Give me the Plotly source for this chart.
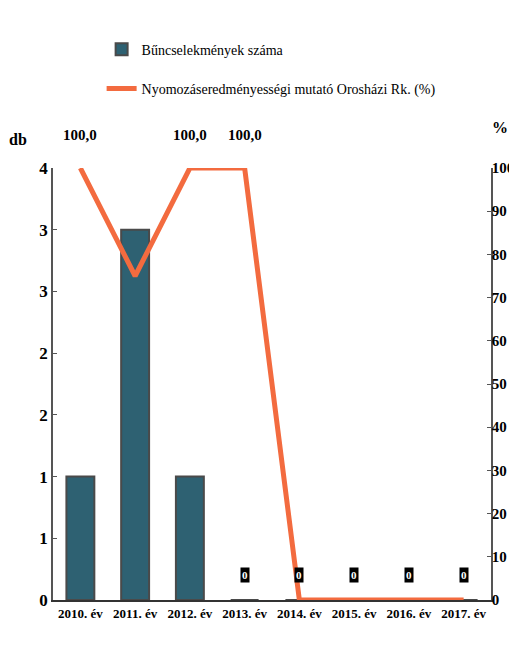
import plotly.graph_objects as go

categories = ["2010. év", "2011. év", "2012. év", "2013. év", "2014. év", "2015. év", "2016. év", "2017. év"]
crimes = [1, 3, 1, 0, 0, 0, 0, 0]
rate = [100, 75, 100, 100, 0, 0, 0, 0]
left_tickvals = [0, 0.5, 1, 1.5, 2, 2.5, 3, 3.5]
left_ticktext = ["0", "1", "1", "2", "2", "3", "3", "4"]
right_tickvals = [0, 10, 20, 30, 40, 50, 60, 70, 80, 90, 100]

FONT = "Liberation Serif"

fig = go.Figure()
fig.add_trace(go.Bar(
    x=categories, y=crimes, name="Bűncselekmények száma",
    marker=dict(color="#2E6172", line=dict(color="#4a4a4a", width=2)),
    legendgroup="a",
))
fig.add_trace(go.Scatter(
    x=categories, y=rate, name="Nyomozáseredményességi mutató Orosházi Rk. (%)",
    mode="lines", line=dict(color="#F36B3F", width=5), yaxis="y2",
    legendgroup="b",
))
for c, v in zip(categories, rate):
    if v == 100:
        fig.add_annotation(x=c, y=v, yref="y2", text="<b>" + ("%.1f" % v).replace(".", ",") + "</b>",
                           showarrow=False, yshift=33, font=dict(family=FONT, size=15, color="black"))
for c, v in zip(categories, crimes):
    if v == 0:
        fig.add_annotation(x=c, y=v, yref="y", text="<b>0</b>", showarrow=False, yshift=25,
                           bgcolor="black", borderpad=1,
                           font=dict(family=FONT, size=11, color="white"))

fig.add_annotation(x=-0.08, y=1.065, xref="paper", yref="paper", text="<b>db</b>", showarrow=False,
                   xanchor="center", yanchor="middle",
                   font=dict(family=FONT, size=16, color="black"))
fig.add_annotation(x=1.02, y=1.093, xref="paper", yref="paper", text="<b>%</b>", showarrow=False,
                   xanchor="center", yanchor="middle",
                   font=dict(family=FONT, size=16, color="black"))

fig.update_layout(
    width=509, height=638,
    margin=dict(l=45, r=26, t=160, b=46, autoexpand=False),
    paper_bgcolor="white", plot_bgcolor="white",
    font=dict(family=FONT, color="black"),
    bargap=0.49,
    showlegend=True,
    legend=dict(x=0.111, y=1.311, xanchor="left", yanchor="top", tracegroupgap=18,
                itemwidth=30, font=dict(family=FONT, size=14, color="black"),
                bgcolor="rgba(0,0,0,0)"),
    xaxis=dict(showline=True, linecolor="#333", linewidth=2, ticks="", automargin=False,
               tickfont=dict(family=FONT, size=13, color="black", weight="bold")),
    yaxis=dict(range=[0, 3.5], tickvals=left_tickvals, ticktext=left_ticktext, automargin=False,
               showgrid=False, zeroline=False, showline=True, linecolor="#555", linewidth=1.5,
               ticks="inside", ticklen=4, tickcolor="#555",
               tickfont=dict(family=FONT, size=17, color="black", weight="bold")),
    yaxis2=dict(range=[0, 100], tickvals=right_tickvals, overlaying="y", side="right", automargin=False,
                showgrid=False, zeroline=False, showline=True, linecolor="#555", linewidth=1.5,
                ticks="inside", ticklen=4, tickcolor="#555", ticklabelstandoff=-4,
                tickfont=dict(family=FONT, size=15, color="black", weight="bold")),
)

fig.write_html("out.html")
